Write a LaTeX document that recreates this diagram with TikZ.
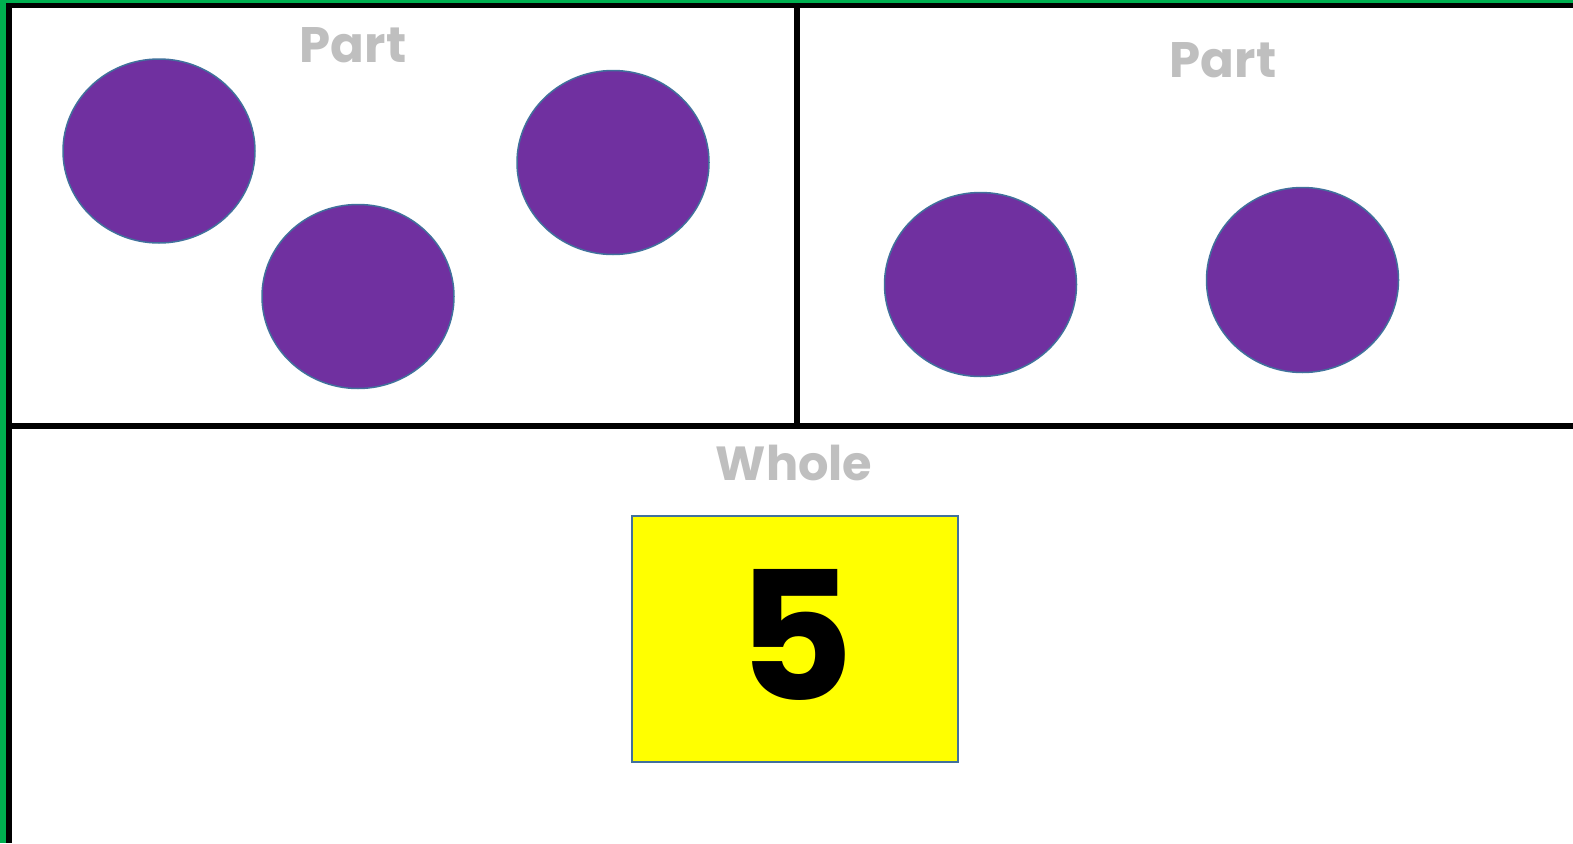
\documentclass[tikz,border=0pt]{standalone}
\usepackage{fontspec}
\newfontfamily\labelfont{Poppins}
\definecolor{gborder}{HTML}{00B050}
\definecolor{dotpurple}{HTML}{7030A0}
\definecolor{dotedge}{HTML}{41719C}
\definecolor{labelgrey}{HTML}{BFBFBF}
\definecolor{boxyellow}{RGB}{255,255,0}
\tikzset{
  dot/.style={fill=dotpurple,draw=dotedge,line width=1.5bp},
  partlabel/.style={anchor=base,inner sep=0pt,text=labelgrey,font=\labelfont\bfseries\fontsize{50}{50}\selectfont},
  wholebox/.style={fill=boxyellow,draw=dotedge,line width=2bp},
  divline/.style={line width=6bp,draw=black},
}
\begin{document}
\begin{tikzpicture}[x=1bp,y=-1bp]
\useasboundingbox (0,0) rectangle (1573,843);
\fill[white] (0,0) rectangle (1573,843);
% green frame
\fill[gborder] (0,0) rectangle (6,843);
\fill[gborder] (0,0) rectangle (1573,3);
% black frame
\fill[black] (6,3) rectangle (12,843);
\fill[black] (6,3) rectangle (1573,8);
% dividers
\coordinate (hl) at (12,426);
\coordinate (hr) at (1573,426);
\coordinate (vt) at (797,8);
\coordinate (vb) at (797,426);
\draw[divline] (hl) -- (hr);
\draw[divline] (vt) -- (vb);
% labels
\node[partlabel] (p1) at (353,62) {Part};
\node[partlabel] (p2) at (1223,77) {Part};
\node[partlabel,font=\labelfont\bfseries\fontsize{48}{48}\selectfont] (w) at (794,480) {Whole};
% dots
\draw[dot] (159,151) ellipse [x radius=96,y radius=92];
\draw[dot] (358,296.5) ellipse [x radius=96,y radius=92];
\draw[dot] (613,162.5) ellipse [x radius=96,y radius=92];
\draw[dot] (980.5,284.5) ellipse [x radius=96,y radius=92];
\draw[dot] (1302.5,280) ellipse [x radius=96,y radius=92.5];
% whole box
\draw[wholebox] (632,516) rectangle (958,762);
\node[anchor=base,inner sep=0pt,font=\labelfont\bfseries\fontsize{180}{180}\selectfont] (five) at (796,700) {5};
\end{tikzpicture}
\end{document}
